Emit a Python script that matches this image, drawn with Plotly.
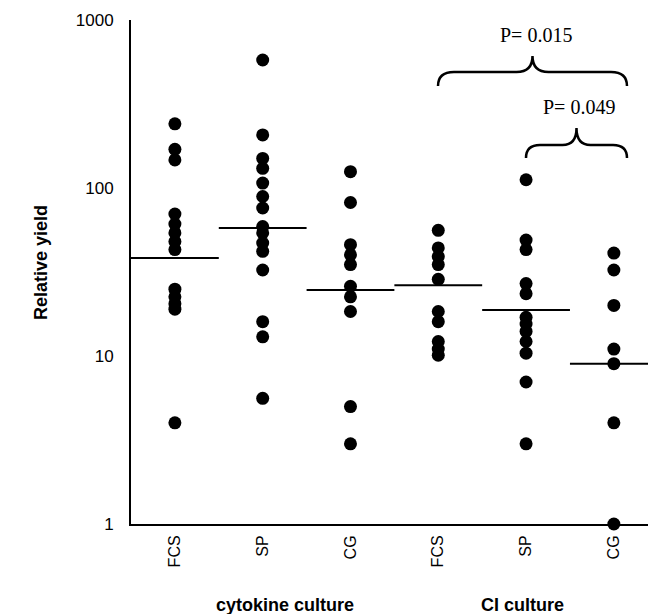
import plotly.graph_objects as go

# ---------------- data ----------------
categories = ["FCS", "SP", "CG", "FCS", "SP", "CG"]
groups = ["cytokine culture", "CI culture"]

fcs_cyto = [241, 170, 147, 70, 61, 54, 48, 43, 25, 22.5, 20.5, 19, 4]
sp_cyto = [578, 207, 150, 131, 107, 89, 76, 59, 54, 47, 42, 32.5, 16, 13, 5.6]
cg_cyto = [125, 82, 46, 40, 35, 26, 22.5, 18.4, 5, 3]
fcs_ci = [56, 44, 39, 35, 28.6, 18.4, 16, 12.2, 11, 10.1]
sp_ci = [112, 49, 43, 27, 23.5, 17, 15.5, 14, 12.2, 10.4, 7, 3]
cg_ci = [41, 32.5, 20, 11, 9, 4, 1]

medians = [38.3, 57.8, 24.7, 26.4, 18.8, 9.0]

pvalues = ["P= 0.015", "P= 0.049"]
ytick_vals = [1, 10, 100, 1000]
ytick_text = ["1", "10", "100", "1000"]

series = [fcs_cyto, sp_cyto, cg_cyto, fcs_ci, sp_ci, cg_ci]

# ---------------- layout geometry ----------------
# the page body has an 8px margin; the figure is shrunk by it so that
# reference pixel positions (page coordinates) line up
OFF = 8
W, H = 656 - OFF, 614 - OFF
ML, MR, MT, MB = 131 - OFF, 0, 20 - OFF, 90
PW = W - ML - MR
PH = H - MT - MB


def px(x):
    return (x - OFF - ML) / PW


def py(y):
    return (H - MB - (y - OFF)) / PH


fig = go.Figure()

for i, vals in enumerate(series):
    fig.add_trace(go.Scatter(
        x=[i] * len(vals), y=vals, mode="markers",
        marker=dict(size=13, color="black"),
        cliponaxis=False, showlegend=False, hoverinfo="y"))

for i, m in enumerate(medians):
    fig.add_trace(go.Scatter(
        x=[i - 0.5, i + 0.5], y=[m, m], mode="lines",
        line=dict(color="black", width=2),
        showlegend=False, hoverinfo="skip"))


def brace(x0, x1, yb, yh, yp, r):
    xm = (x0 + x1) / 2
    pts = [
        ("M", [(x0, yb)]),
        ("Q", [(x0, yh), (x0 + r, yh)]),
        ("L", [(xm - r, yh)]),
        ("Q", [(xm, yh), (xm, yp)]),
        ("Q", [(xm, yh), (xm + r, yh)]),
        ("L", [(x1 - r, yh)]),
        ("Q", [(x1, yh), (x1, yb)]),
    ]
    s = ""
    for cmd, cs in pts:
        s += cmd + " " + " ".join(f"{px(a):.5f},{py(b):.5f}" for a, b in cs) + " "
    return s.strip()


shapes = [
    dict(type="path", xref="paper", yref="paper",
         path=brace(438, 627, 86, 72, 56, 16),
         line=dict(color="black", width=2.5)),
    dict(type="path", xref="paper", yref="paper",
         path=brace(526, 627, 158, 145, 128, 14),
         line=dict(color="black", width=2.5)),
]

serif = "Liberation Serif, Times New Roman, serif"
sans = "Liberation Sans, Arial, sans-serif"

annotations = [
    dict(text=pvalues[0], x=px(536), y=py(35), xref="paper", yref="paper",
         showarrow=False, xanchor="center", yanchor="middle",
         font=dict(family=serif, size=20, color="black")),
    dict(text=pvalues[1], x=px(579), y=py(107), xref="paper", yref="paper",
         showarrow=False, xanchor="center", yanchor="middle",
         font=dict(family=serif, size=20, color="black")),
    dict(text="<b>" + groups[0] + "</b>", x=px(285), y=py(605), xref="paper", yref="paper",
         showarrow=False, xanchor="center", yanchor="middle",
         font=dict(family=sans, size=18, color="black")),
    dict(text="<b>" + groups[1] + "</b>", x=px(522), y=py(605), xref="paper", yref="paper",
         showarrow=False, xanchor="center", yanchor="middle",
         font=dict(family=sans, size=18, color="black")),
    dict(text="<b>Relative yield</b>", x=px(41), y=py(263), xref="paper", yref="paper",
         showarrow=False, xanchor="center", yanchor="middle", textangle=-90,
         font=dict(family=sans, size=18, color="black")),
]

fig.update_layout(
    width=W, height=H,
    margin=dict(l=ML, r=MR, t=MT, b=MB, pad=0),
    paper_bgcolor="white", plot_bgcolor="white",
    font=dict(family=sans, size=16, color="black"),
    shapes=shapes, annotations=annotations,
    xaxis=dict(
        range=[-0.5, 5.48], tickmode="array",
        tickvals=list(range(len(categories))), ticktext=categories,
        tickangle=-90, ticks="", showgrid=False, zeroline=False,
        showline=True, linecolor="black", linewidth=2,
        ticklabelstandoff=3, tickfont=dict(size=16)),
    yaxis=dict(
        type="log", range=[0, 3], tickmode="array",
        tickvals=ytick_vals, ticktext=ytick_text,
        ticks="", showgrid=False, zeroline=False,
        showline=True, linecolor="black", linewidth=2,
        ticklabelstandoff=12, tickfont=dict(size=17)),
)

fig.write_html("out.html")
